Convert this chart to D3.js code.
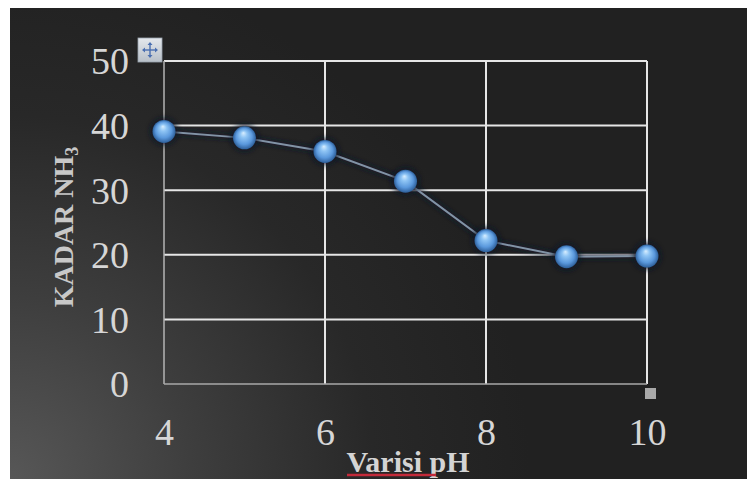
<!DOCTYPE html>
<html>
<head>
<meta charset="utf-8">
<script src="https://cdn.jsdelivr.net/npm/d3@7/dist/d3.min.js"></script>
<style>
html,body{margin:0;padding:0;background:#fff;}
svg{display:block;}
</style>
</head>
<body>
<svg id="chart" width="747" height="479"></svg>
<script>
const phValues = [4, 5, 6, 7, 8, 9, 10];
const kadarNH3 = [39.1, 38.1, 36.0, 31.4, 22.2, 19.7, 19.8];
const xTicks = [4, 6, 8, 10];
const yTicks = [0, 10, 20, 30, 40, 50];
const yTitle = "KADAR NH";
const yTitleSub = "3";
const xTitle = "Varisi pH";

const svg = d3.select("#chart");
const W = 747, H = 479;
const m = {left: 164, top: 61, right: 647, bottom: 384};

const defs = svg.append("defs");
const bg = defs.append("radialGradient").attr("id","bg")
  .attr("gradientUnits","userSpaceOnUse").attr("cx",10).attr("cy",479).attr("r",520);
bg.append("stop").attr("offset","0").attr("stop-color","#575757");
bg.append("stop").attr("offset","0.35").attr("stop-color","#3e3e3e");
bg.append("stop").attr("offset","0.7").attr("stop-color","#282828");
bg.append("stop").attr("offset","1").attr("stop-color","#212121");

const ball = defs.append("radialGradient").attr("id","ball")
  .attr("cx","0.5").attr("cy","0.5").attr("r","0.5").attr("fx","0.45").attr("fy","0.28");
ball.append("stop").attr("offset","0").attr("stop-color","#d8eeff");
ball.append("stop").attr("offset","0.3").attr("stop-color","#8ec4f4");
ball.append("stop").attr("offset","0.7").attr("stop-color","#5a98dc");
ball.append("stop").attr("offset","1").attr("stop-color","#2e5f9a");

const glow = defs.append("filter").attr("id","glow").attr("x","-50%").attr("y","-50%").attr("width","200%").attr("height","200%");
glow.append("feGaussianBlur").attr("stdDeviation","2.5");

const iconG = defs.append("linearGradient").attr("id","icon").attr("x1","0").attr("y1","0").attr("x2","0").attr("y2","1");
iconG.append("stop").attr("offset","0").attr("stop-color","#e4e8ec");
iconG.append("stop").attr("offset","1").attr("stop-color","#b8c0c8");

svg.append("rect").attr("x",10).attr("y",8).attr("width",W-10).attr("height",H-8).attr("fill","url(#bg)");

const x = d3.scaleLinear().domain([4,10]).range([m.left, m.right]);
const y = d3.scaleLinear().domain([0,50]).range([m.bottom, m.top]);

// horizontal gridlines
svg.append("g").selectAll("line").data(yTicks.filter(d=>d>0)).join("line")
  .attr("x1",m.left).attr("x2",m.right).attr("y1",d=>y(d)).attr("y2",d=>y(d))
  .attr("stroke","#e6e6e6").attr("stroke-width",2);
// vertical gridlines
svg.append("g").selectAll("line").data(xTicks.filter(d=>d>4)).join("line")
  .attr("x1",d=>x(d)).attr("x2",d=>x(d)).attr("y1",m.top).attr("y2",m.bottom)
  .attr("stroke","#e6e6e6").attr("stroke-width",2);
// axes lines
svg.append("line").attr("x1",m.left).attr("x2",m.left).attr("y1",m.top).attr("y2",m.bottom)
  .attr("stroke","#b4b4b4").attr("stroke-width",1.5);
svg.append("line").attr("x1",m.left).attr("x2",m.right).attr("y1",m.bottom).attr("y2",m.bottom)
  .attr("stroke","#a8a8a8").attr("stroke-width",1.5);

// axis tick labels via d3 axes
const yAxis = svg.append("g").attr("transform",`translate(${m.left},0)`)
  .call(d3.axisLeft(y).tickValues(yTicks).tickFormat(d3.format("d")).tickSize(0).tickPadding(35));
const xAxis = svg.append("g").attr("transform",`translate(0,${m.bottom})`)
  .call(d3.axisBottom(x).tickValues(xTicks).tickFormat(d3.format("d")).tickSize(0).tickPadding(34));
[yAxis, xAxis].forEach(a=>{
  a.select(".domain").remove();
  a.selectAll("text").attr("font-family","'Liberation Serif','DejaVu Serif',serif")
    .attr("font-size",38).attr("fill","#d6d6d6");
});
yAxis.selectAll("text").attr("dy","0.34em");
xAxis.selectAll("text").attr("dy","0.71em");

// series line
const line = d3.line().x((d,i)=>x(phValues[i])).y(d=>y(d));
svg.append("path").datum(kadarNH3).attr("d",line).attr("fill","none")
  .attr("stroke","#0e1a28").attr("stroke-width",6).attr("stroke-opacity",0.7).attr("filter","url(#glow)");
svg.append("path").datum(kadarNH3).attr("d",line).attr("fill","none")
  .attr("stroke","#8293a6").attr("stroke-width",2);

// markers
const mk = svg.append("g").selectAll("g").data(kadarNH3).join("g")
  .attr("transform",(d,i)=>`translate(${x(phValues[i])},${y(d)})`);
mk.append("circle").attr("r",14).attr("fill","#0a1626").attr("opacity",0.75).attr("filter","url(#glow)");
mk.append("circle").attr("r",11.5).attr("fill","url(#ball)");

// y title
const yt = svg.append("text").attr("transform","translate(73,227) rotate(-90)")
  .attr("text-anchor","middle").attr("font-family","'Liberation Serif','DejaVu Serif',serif")
  .attr("font-size",28).attr("font-weight","bold").attr("fill","#c8c8c8");
yt.append("tspan").text(yTitle);
yt.append("tspan").text(yTitleSub).attr("font-size",18).attr("dy",5);

// x title
svg.append("text").attr("x",408).attr("y",472).attr("text-anchor","middle")
  .attr("font-family","'Liberation Serif','DejaVu Serif',serif")
  .attr("font-size",30).attr("font-weight","bold").attr("fill","#d4d4d4").text(xTitle);
// spell-check underline
svg.append("line").attr("x1",347).attr("x2",436).attr("y1",475).attr("y2",475)
  .attr("stroke","#c42a3a").attr("stroke-width",2.5);

// move handle icon
svg.append("rect").attr("x",138).attr("y",38).attr("width",24).attr("height",24)
  .attr("fill","url(#icon)").attr("stroke","#9aa4ae").attr("stroke-width",0.8);
const ic = svg.append("g").attr("transform","translate(150,50)").attr("stroke","#4a6fb0").attr("stroke-width",1.4).attr("fill","#4a6fb0");
ic.append("line").attr("x1",-7).attr("x2",7).attr("y1",0).attr("y2",0);
ic.append("line").attr("y1",-7).attr("y2",7).attr("x1",0).attr("x2",0);
ic.append("path").attr("d","M0,-8 L-2.5,-5 L2.5,-5 Z M0,8 L-2.5,5 L2.5,5 Z M-8,0 L-5,-2.5 L-5,2.5 Z M8,0 L5,-2.5 L5,2.5 Z").attr("stroke","none");

// resize handle
svg.append("rect").attr("x",645).attr("y",388).attr("width",11).attr("height",11).attr("fill","#a9a9a9");
</script>
</body>
</html>
